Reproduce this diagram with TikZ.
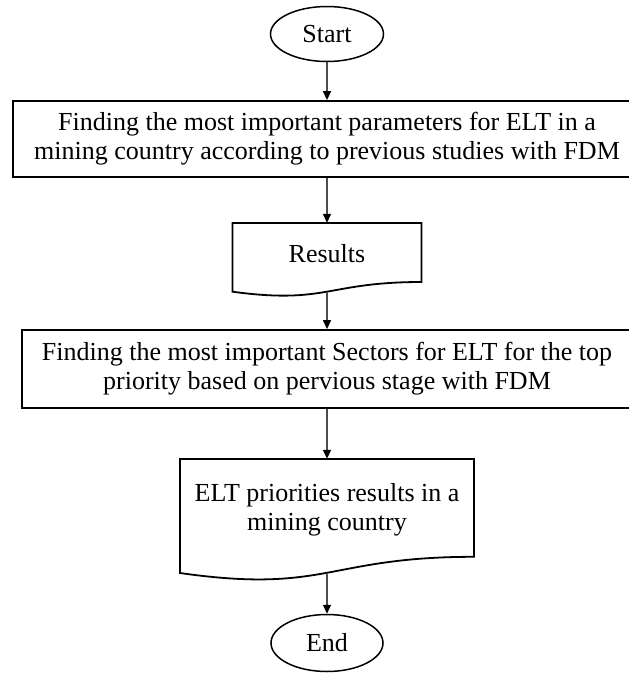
\documentclass[tikz,border=0pt]{standalone}
\usepackage{fontspec}
\setmainfont{Liberation Serif}
\usetikzlibrary{shapes.geometric,arrows.meta}
\tikzset{
  txt/.style={font=\fontsize{26}{29}\selectfont, align=center, inner sep=0pt},
  term/.style={txt, ellipse, draw=black, line width=1.5pt},
  procbox/.style={txt, rectangle, draw=black, line width=1.8pt},
  docbox/.style={txt, rectangle, draw=none},
  docline/.style={draw=black, line width=1.8pt, line join=miter},
  flow/.style={draw=black!70, line width=1.3pt, -{Triangle[length=9pt,width=8pt,color=black]}}
}
\begin{document}
\begin{tikzpicture}[x=1pt,y=-1pt]
\useasboundingbox (0,0) rectangle (629,673);
% terminals
\node[term, minimum width=113pt, minimum height=55pt] (start) at (327,34) {Start};
\node[term, minimum width=112pt, minimum height=57pt] (end) at (327,643) {End};
% process boxes
\node[procbox, minimum width=628pt, minimum height=76pt] (b1) at (327,139)
  {Finding the most important parameters for ELT in a\\mining country according to previous studies with FDM};
\node[procbox, minimum width=610pt, minimum height=78pt] (b2) at (327,369)
  {Finding the most important Sectors for ELT for the top\\priority based on pervious stage with FDM};
% document: Results
\node[docbox, minimum width=189pt, minimum height=62pt] (res) at (327,254) {Results};
\draw[docline] (232.5,223) -- (421.5,223) -- (421.5,282)
  .. controls (327,282) and (327,304.5) .. (232.5,291.7) -- cycle;
\coordinate (resout) at (327,291.7);
% document: ELT priorities
\node[docbox, minimum width=294pt, minimum height=102pt] (d4) at (327,510)
  {ELT priorities results in a\\mining country};
\draw[docline] (180,459) -- (474,459) -- (474,556.8)
  .. controls (327,556.8) and (327,594) .. (180,573) -- cycle;
\coordinate (d4out) at (327,572.8);
% connectors
\draw[flow] (start.south) -- (b1.north);
\draw[flow] (b1.south) -- (res.north);
\draw[flow] (resout) -- (b2.north);
\draw[flow] (b2.south) -- (d4.north);
\draw[flow] (d4out) -- (end.north);
\end{tikzpicture}
\end{document}
